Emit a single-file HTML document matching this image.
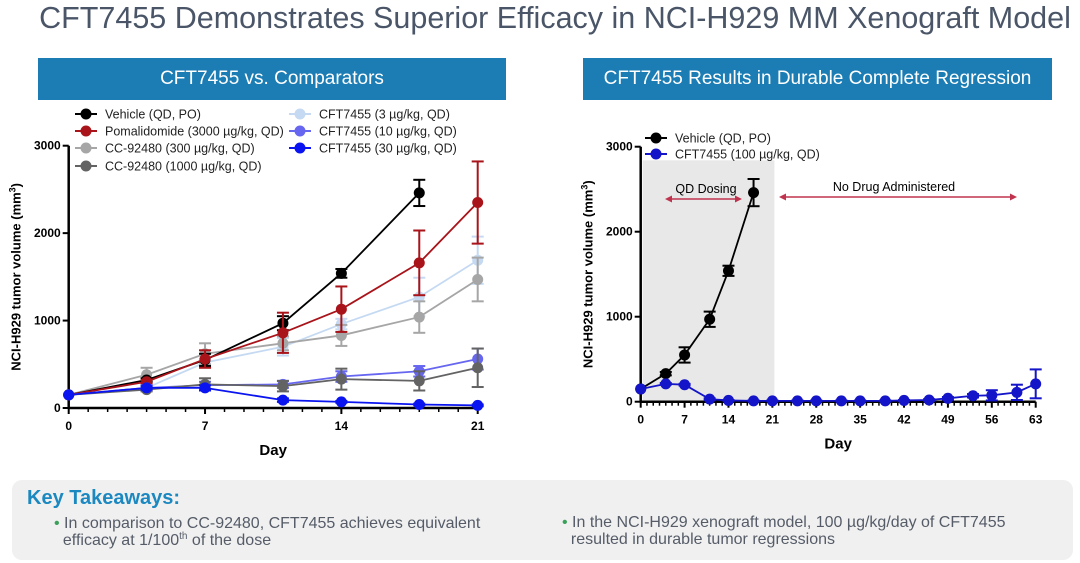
<!DOCTYPE html>
<html><head><meta charset="utf-8"><style>
body{margin:0;width:1080px;height:563px;background:#fff;font-family:"Liberation Sans",sans-serif;position:relative;overflow:hidden}
.abs{position:absolute}
sup{font-size:10px;line-height:0;vertical-align:6px}
</style></head><body>
<div class="abs" style="left:0;top:1px;width:1110px;text-align:center;font-size:30.5px;color:#4a5668;">CFT7455 Demonstrates Superior Efficacy in NCI-H929 MM Xenograft Model</div>
<div class="abs" style="left:38px;top:58px;width:468px;height:42px;background:#1b7db4;color:#fff;font-size:19px;line-height:42px;text-align:center">CFT7455 vs. Comparators</div>
<div class="abs" style="left:583px;top:58px;width:469px;height:42px;background:#1b7db4;color:#fff;font-size:19px;line-height:42px;text-align:center">CFT7455 Results in Durable Complete Regression</div>
<svg id="chart" class="abs" style="left:0;top:0" width="1080" height="563"></svg>
<div class="abs" style="left:12px;top:480px;width:1061px;height:80px;background:#f0f0f0;border-radius:10px">
<div style="position:absolute;left:15px;top:7px;font-size:20px;font-weight:bold;color:#1b88c0">Key Takeaways:</div>
<div style="position:absolute;left:42px;top:35px;width:480px;font-size:16px;line-height:17px;color:#555c68"><span style="color:#3aa05a">• </span>In comparison to CC-92480, CFT7455 achieves equivalent<br>&nbsp;&nbsp;efficacy at 1/100<sup>th</sup> of the dose</div>
<div style="position:absolute;left:550px;top:34px;width:510px;font-size:16px;line-height:17px;color:#555c68"><span style="color:#3aa05a">• </span>In the NCI-H929 xenograft model, 100 µg/kg/day of CFT7455<br>&nbsp;&nbsp;resulted in durable tumor regressions</div>
</div>
<script>
const daysL=[0,4,7,11,14,18,21];
const vehL=[150,320,550,970,1540,2460];
const vehLe=[0,20,70,80,50,150];
const pom=[150,300,560,860,1130,1660,2350];
const pomE=[0,20,100,230,260,370,470];
const cc300=[150,380,620,740,830,1040,1470];
const cc300E=[0,80,120,80,120,180,250];
const cc1000=[150,210,270,250,330,310,460];
const cc1000E=[0,20,70,60,120,110,220];
const cft3=[150,230,520,700,960,1270,1690];
const cft3E=[0,20,40,100,60,220,270];
const cft10=[150,230,260,270,360,420,560];
const cft10E=[0,30,40,40,60,60,120];
const cft30=[150,230,230,90,70,40,30];
const cft30E=[0,20,30,20,10,10,10];
const daysR=[0,4,7,11,14,18,21,25,28,32,35,39,42,46,49,53,56,60,63];
const vehR=[150,330,550,970,1540,2460];
const vehRe=[0,20,90,90,60,160];
const cft100=[150,210,200,30,15,10,10,10,10,10,10,10,15,20,40,70,75,110,210];
const cft100E=[0,10,10,10,5,5,5,5,5,5,5,5,5,10,15,20,60,90,170];
const yTicks=[0,1000,2000,3000];
const xTicksL=[0,7,14,21];
const xTicksR=[0,7,14,21,28,35,42,49,56,63];

const svg=document.getElementById('chart');
const NS='http://www.w3.org/2000/svg';
function mk(t,a,p){const e=document.createElementNS(NS,t);for(const k in a)e.setAttribute(k,a[k]);(p||svg).appendChild(e);return e;}
function txt(s,a){const e=mk('text',a);e.textContent=s;return e;}

function chart(c){
  const X=d=>c.x0+(d-c.d0)*(c.x1-c.x0)/(c.d1-c.d0);
  const Y=v=>c.y0-v*(c.y0-c.y3)/3000;
  if(c.shade){const r=mk('rect',{x:X(0)+2,y:Y(2840),width:X(21)-X(0),height:Y(0)-Y(2840),fill:'#e8e8e8'});}
  const ya=mk('line',{x1:X(0),y1:Y(0)+1,x2:X(0),y2:Y(3000),stroke:'#000','stroke-width':2.5});
  
  const xa=mk('line',{x1:X(0),y1:Y(0),x2:X(c.d1),y2:Y(0),stroke:'#000','stroke-width':2.5});
  
  yTicks.forEach(v=>{mk('line',{x1:X(0)-6,y1:Y(v),x2:X(0),y2:Y(v),stroke:'#000','stroke-width':2});
    const t=txt(v,{x:X(0)-8,y:Y(v)+4,'text-anchor':'end','font-size':12,'font-weight':'bold'});
    });
  for(let d=0;d<=c.d1;d++){mk('line',{x1:X(d),y1:Y(0),x2:X(d),y2:Y(0)+(d%7==0?6:4),stroke:'#000','stroke-width':d%7==0?2:1.5});}
  c.xt.forEach(d=>{const t=txt(d,{x:X(d),y:Y(0)+22,'text-anchor':'middle','font-size':12,'font-weight':'bold'});
    });
  const xt=txt('Day',{x:(X(0)+X(c.d1))/2,y:Y(0)+47,'text-anchor':'middle','font-size':15,'font-weight':'bold'});
  
  const cy=(Y(0)+Y(3000))/2, cx=c.x0-48;
  const yt=txt('',{x:cx,y:cy,'text-anchor':'middle','font-size':13,'font-weight':'bold',transform:`rotate(-90 ${cx} ${cy})`});
  yt.innerHTML='NCI-H929 tumor volume (mm<tspan dy="-5" font-size="9">3</tspan><tspan dy="5">)</tspan>';
  
  c.series.forEach(s=>{
    const g=mk('g',{});
    const pts=s.v.map((v,i)=>X(c.days[i])+','+Y(v)).join(' ');
    mk('polyline',{points:pts,fill:'none',stroke:s.col,'stroke-width':s.w||1.8},g);
    s.v.forEach((v,i)=>{const e=s.e[i];const x=X(c.days[i]);
      if(e>0){mk('line',{x1:x,y1:Y(v+e),x2:x,y2:Y(v-e),stroke:s.col,'stroke-width':2},g);
        [v+e,v-e].forEach(q=>mk('line',{x1:x-6,y1:Y(q),x2:x+6,y2:Y(q),stroke:s.col,'stroke-width':2},g));}
      const p=mk('circle',{cx:x,cy:Y(v),r:5.5,fill:s.col},g);
      });
  });
  c.legend.forEach(l=>{const g=mk('g',{});
    mk('line',{x1:l.x,y1:l.y,x2:l.x+22,y2:l.y,stroke:l.col,'stroke-width':2},g);
    mk('circle',{cx:l.x+11,cy:l.y,r:5.5,fill:l.col},g);
    const t=mk('text',{x:l.x+30,y:l.y+4.5,'font-size':12.5,fill:'#222'},g);t.textContent=l.t;});
}
const BK='#000',RD='#a8141a',LG='#a6a6a6',DG='#636363',PB='#c5daf2',MB='#6666f0',BB='#0a14f0',NB='#1414c8';
chart({id:'left',x0:68.7,x1:477.7,d0:0,d1:21,y0:408,y3:145.7,days:daysL,xt:xTicksL,
 series:[{name:'cft7455-3-series',v:cft3,e:cft3E,col:PB},{name:'cc92480-300-series',v:cc300,e:cc300E,col:LG},
 {name:'vehicle-series',v:vehL,e:vehLe,col:BK},{name:'pomalidomide-series',v:pom,e:pomE,col:RD},
 {name:'cft7455-10-series',v:cft10,e:cft10E,col:MB},{name:'cc92480-1000-series',v:cc1000,e:cc1000E,col:DG},
 {name:'cft7455-30-series',v:cft30,e:cft30E,col:BB}],
 legend:[{x:75,y:114,col:BK,t:'Vehicle (QD, PO)'},{x:75,y:131,col:RD,t:'Pomalidomide (3000 µg/kg, QD)'},
 {x:75,y:148,col:LG,t:'CC-92480 (300 µg/kg, QD)'},{x:75,y:166,col:DG,t:'CC-92480 (1000 µg/kg, QD)'},
 {x:289,y:114,col:PB,t:'CFT7455 (3 µg/kg, QD)'},{x:289,y:131,col:MB,t:'CFT7455 (10 µg/kg, QD)'},{x:289,y:148,col:BB,t:'CFT7455 (30 µg/kg, QD)'}]});
chart({id:'right',x0:640.7,x1:1035.7,d0:0,d1:63,y0:401.7,y3:146.7,days:daysR,xt:xTicksR,shade:true,
 series:[{name:'vehicle-series-right',v:vehR,e:vehRe,col:BK},{name:'cft7455-100-series',v:cft100,e:cft100E,col:NB}],
 legend:[{x:645,y:138,col:BK,t:'Vehicle (QD, PO)'},{x:645,y:154,col:NB,t:'CFT7455 (100 µg/kg, QD)'}]});
function arrow(x1,x2,y,name){const g=mk('g',{});
 mk('line',{x1:x1+4,y1:y,x2:x2-4,y2:y,stroke:'#c0334f','stroke-width':1.5},g);
 mk('polygon',{points:`${x1},${y} ${x1+7},${y-3.5} ${x1+7},${y+3.5}`,fill:'#c0334f'},g);
 mk('polygon',{points:`${x2},${y} ${x2-7},${y-3.5} ${x2-7},${y+3.5}`,fill:'#c0334f'},g);}
arrow(665,742,199,'qd-dosing-arrow');arrow(779,1017,197,'no-drug-arrow');
const a1=txt('QD Dosing',{x:706,y:193,'text-anchor':'middle','font-size':12.5});
const a2=txt('No Drug Administered',{x:894,y:191,'text-anchor':'middle','font-size':12.5});
</script>
</body></html>
